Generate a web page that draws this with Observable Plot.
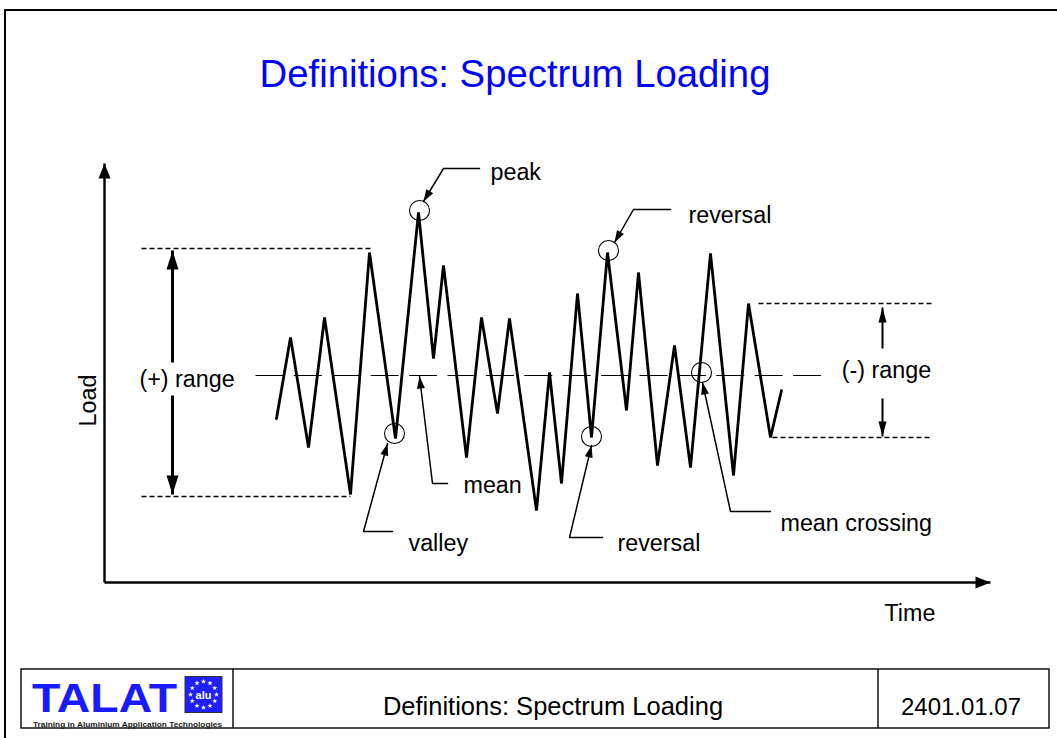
<!DOCTYPE html>
<html>
<head>
<meta charset="utf-8">
<script src="https://cdn.jsdelivr.net/npm/d3@7"></script>
<script src="https://cdn.jsdelivr.net/npm/@observablehq/plot@0.6"></script>
<style>
  body { margin: 0; background: #fff; }
  #page { position: relative; width: 1057px; height: 738px; overflow: hidden; background: #fff;
          font-family: "Liberation Sans", Arial, sans-serif; }
  #chart { position: absolute; left: 0; top: 0; }
  .abs { position: absolute; }
</style>
</head>
<body>
<div id="page">
  <div id="chart"></div>
  <div class="abs" style="left:4px;top:9px;width:1060px;height:0;border-top:2.5px solid #000;"></div>
  <div class="abs" style="left:4px;top:9px;width:0;height:740px;border-left:2.5px solid #000;"></div>
  <div id="title" class="abs" style="left:0;top:52px;width:1030px;text-align:center;color:#0000ff;font-size:38.3px;line-height:44px;">Definitions: Spectrum Loading</div>
  <svg id="footer" class="abs" style="left:0;top:0;" width="1057" height="738"></svg>
</div>
<script>
// ---------------- data (time in arbitrary units, load relative to mean) ----------------
const time = [17.2, 18.6, 20.4, 22.0, 24.6, 26.5, 29.1, 31.4, 32.9, 33.9,
              36.2, 37.7, 39.3, 40.5, 43.2, 44.5, 45.7, 47.3, 48.7, 50.3,
              52.2, 53.4, 55.3, 57.0, 58.6, 60.6, 62.9, 64.4, 66.6, 67.7];
const load = [-4.3, 3.8, -7.2, 5.8, -11.9, 12.3, -6.3, 16.3, 1.7, 11.0,
              -8.2, 5.8, -3.8, 5.7, -13.5, 0.3, -10.8, 8.2, -6.2, 12.3,
              -3.5, 10.3, -9.0, 3.0, -9.2, 12.2, -10.0, 7.2, -6.2, -1.5];

const meanLoad = 0;
const meanSpan = [15.1, 71.7];

// annotated points (circled)
const circledTime = [29.0, 31.5, 50.4, 48.7, 59.7];
const circledLoad = [-5.8, 16.5, 12.5, -6.1, 0.3];

// range guides
const plusRangeGuides = [{t1: 3.7, t2: 26.6, L: 12.7}, {t1: 3.7, t2: 24.6, L: -12.1}];
const minusRangeGuides = [{t1: 65.4, t2: 82.8, L: 7.2}, {t1: 66.8, t2: 82.8, L: -6.2}];
const plusRangeArrows = [{t: 6.8, from: 1.3, to: 12.5}, {t: 6.8, from: -2.0, to: -11.9}];
const minusRangeArrows = [{t: 77.8, from: 2.7, to: 6.8}, {t: 77.8, from: -2.3, to: -6.1}];

// axes (origin and arrow tips)
const axisOrigin = {t: 0, L: -20.7};
const axisTips = [{t: 0, L: 21.2}, {t: 88.6, L: -20.7}];

// annotation leaders: polyline ending at the arrow tip
const leaderNames = ["peak", "reversal (top)", "valley", "mean", "reversal (bottom)", "mean crossing"];
const leaderPoints = [
  [[37.5, 20.7], [33.9, 20.7], [31.9, 17.4]],
  [[56.6, 16.6], [52.9, 16.6], [51.0, 13.3]],
  [[28.8, -15.6], [25.9, -15.6], [28.3, -6.8]],
  [[34.3, -10.8], [32.8, -10.8], [31.5, -0.1]],
  [[49.8, -16.2], [46.5, -16.2], [48.7, -7.0]],
  [[66.6, -13.6], [62.6, -13.6], [59.8, -0.7]]
];

// labels
const labelText = ["peak", "reversal", "valley", "mean", "reversal", "mean crossing", "Time"];
const labelTime = [38.6, 58.4, 30.4, 35.9, 51.3, 67.6, 78.0];
const labelLoad = [20.3, 16.0, -16.8, -11.0, -16.8, -14.8, -23.8];
const rangeLabels = [{text: "(+) range", t: 8.25, L: -0.4}, {text: "(-) range", t: 78.2, L: 0.5}];
const yAxisLabel = {text: "Load", t: -1.6, L: -2.5};

// ---------------- build tables ----------------
const series = time.map((t, i) => ({t, L: load[i]}));
const circled = circledTime.map((t, i) => ({t, L: circledLoad[i]}));
const labels = labelText.map((text, i) => ({text, t: labelTime[i], L: labelLoad[i]}));
const leaderRows = leaderPoints.flatMap((pts, k) => pts.map(([t, L]) => ({z: leaderNames[k], t, L})));
const angle = (t1, L1, t2, L2) => Math.atan2(t2 - t1, L2 - L1) * 180 / Math.PI; // equal px per unit in x and y
const leaderHeads = leaderPoints.map(pts => {
  const [a, b] = pts.slice(-2);
  return {t: b[0], L: b[1], rot: angle(a[0], a[1], b[0], b[1])};
});
const axisLines = axisTips.map(d => ({t1: axisOrigin.t, L1: axisOrigin.L, t2: d.t, L2: d.L}));
const axisHeads = axisTips.map(d => ({t: d.t, L: d.L, rot: angle(axisOrigin.t, axisOrigin.L, d.t, d.L)}));
const rangeHead = d => ({t: d.t, L: d.to, rot: angle(d.t, d.from, d.t, d.to)});

const font = "Liberation Sans, Arial, sans-serif";

const chart = Plot.plot({
  width: 1057,
  height: 738,
  margin: 0,
  style: {background: "transparent"},
  x: {domain: [0, 88.6], range: [104, 990], axis: null},
  y: {domain: [-20.7, 21.5], range: [582, 160], axis: null},
  marks: [
    // mean line
    Plot.link([{t1: meanSpan[0], t2: meanSpan[1], L: meanLoad}], {x1: "t1", x2: "t2", y1: "L", y2: "L", stroke: "black", strokeWidth: 1, strokeDasharray: "28,10.4"}),
    // range guides
    Plot.link(plusRangeGuides.concat(minusRangeGuides), {x1: "t1", x2: "t2", y1: "L", y2: "L", stroke: "black", strokeWidth: 1.6, strokeDasharray: "5,3"}),
    // load spectrum
    Plot.line(series, {x: "t", y: "L", stroke: "black", strokeWidth: 2.8, strokeLinejoin: "miter", strokeMiterlimit: 4}),
    // circled points
    Plot.dot(circled, {x: "t", y: "L", r: 10, stroke: "black", strokeWidth: 1.1, fill: "none"}),
    // axes
    Plot.link(axisLines, {x1: "t1", y1: "L1", x2: "t2", y2: "L2", stroke: "black", strokeWidth: 2.4}),
    Plot.vector(axisHeads, {x: "t", y: "L", rotate: "rot", length: 15, r: 6, shape: "spike", anchor: "end", fill: "black", stroke: "none"}),
    // (+) range arrows
    Plot.link(plusRangeArrows, {x: "t", y1: "from", y2: "to", stroke: "black", strokeWidth: 3}),
    Plot.vector(plusRangeArrows.map(rangeHead), {x: "t", y: "L", rotate: "rot", length: 19, r: 6, shape: "spike", anchor: "end", fill: "black", stroke: "none"}),
    // (-) range arrows
    Plot.link(minusRangeArrows, {x: "t", y1: "from", y2: "to", stroke: "black", strokeWidth: 2}),
    Plot.vector(minusRangeArrows.map(rangeHead), {x: "t", y: "L", rotate: "rot", length: 15, r: 4, shape: "spike", anchor: "end", fill: "black", stroke: "none"}),
    // leaders
    Plot.line(leaderRows, {x: "t", y: "L", z: "z", stroke: "black", strokeWidth: 1.5, strokeLinejoin: "miter"}),
    Plot.vector(leaderHeads, {x: "t", y: "L", rotate: "rot", length: 12, r: 4, shape: "spike", anchor: "end", fill: "black", stroke: "none"}),
    // labels
    Plot.text(labels, {x: "t", y: "L", text: "text", textAnchor: "start", fontSize: 23.3, fontFamily: font, fill: "black"}),
    Plot.text(rangeLabels, {x: "t", y: "L", text: "text", textAnchor: "middle", fontSize: 23.3, fontFamily: font, fill: "black"}),
    Plot.text([yAxisLabel], {x: "t", y: "L", text: "text", rotate: -90, fontSize: 23.3, fontFamily: font, fill: "black"})
  ]
});
document.getElementById("chart").appendChild(chart);

// ---------------- footer (TALAT slide template) ----------------
const f = d3.select("#footer");
f.append("rect").attr("x", 21).attr("y", 669).attr("width", 1028).attr("height", 59)
  .attr("fill", "none").attr("stroke", "#000").attr("stroke-width", 1.4);
f.append("line").attr("x1", 233).attr("x2", 233).attr("y1", 669).attr("y2", 728).attr("stroke", "#000").attr("stroke-width", 1.4);
f.append("line").attr("x1", 878).attr("x2", 878).attr("y1", 669).attr("y2", 728).attr("stroke", "#000").attr("stroke-width", 1.4);
f.append("text").attr("x", 553).attr("y", 715).attr("text-anchor", "middle")
  .attr("font-family", font).attr("font-size", 25.5).text("Definitions: Spectrum Loading");
f.append("text").attr("x", 961).attr("y", 715).attr("text-anchor", "middle")
  .attr("font-family", font).attr("font-size", 24).text("2401.01.07");
// logo
f.append("text").attr("x", 32).attr("y", 711.5).attr("font-family", font).attr("font-weight", "bold")
  .attr("font-size", 40).attr("fill", "#1a1aff").attr("textLength", 145).attr("lengthAdjust", "spacingAndGlyphs").text("TALAT");
f.append("rect").attr("x", 185).attr("y", 676.5).attr("width", 37).attr("height", 36)
  .attr("fill", "#1f1fff").attr("stroke", "#333").attr("stroke-width", 1);
const starPath = d3.symbol(d3.symbolStar, 9)();
for (let k = 0; k < 12; k++) {
  const a = k * Math.PI / 6;
  f.append("path").attr("d", starPath).attr("fill", "#fff")
    .attr("transform", `translate(${203.5 + 13 * Math.sin(a)},${694.5 - 13 * Math.cos(a)})`);
}
f.append("text").attr("x", 203.5).attr("y", 698.5).attr("text-anchor", "middle").attr("font-family", font)
  .attr("font-weight", "bold").attr("font-size", 11).attr("fill", "#fff").text("alu");
f.append("text").attr("x", 33).attr("y", 726.5).attr("font-family", font).attr("font-weight", "bold")
  .attr("font-size", 8).attr("fill", "#222").attr("textLength", 189).attr("lengthAdjust", "spacingAndGlyphs")
  .text("Training in Aluminium Application Technologies");
</script>
</body>
</html>
